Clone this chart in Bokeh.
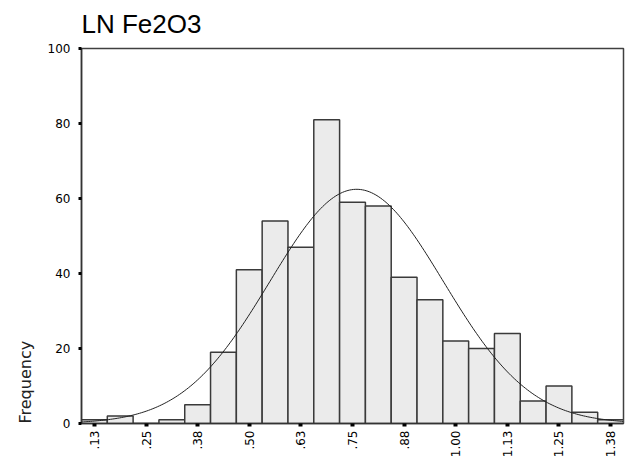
import math
import numpy as np
from bokeh.plotting import figure
from bokeh.models import Title, FixedTicker
from bokeh.embed import file_html
from bokeh.resources import INLINE

# ---- data ----
bin_centers = [0.125, 0.1875, 0.25, 0.3125, 0.375, 0.4375, 0.5, 0.5625, 0.625, 0.6875,
               0.75, 0.8125, 0.875, 0.9375, 1.0, 1.0625, 1.125, 1.1875, 1.25, 1.3125, 1.375]
counts = [1, 2, 0, 1, 5, 19, 41, 54, 47, 81,
          59, 58, 39, 33, 22, 20, 24, 6, 10, 3, 1]
bin_width = 0.0625
tick_values = [0.125, 0.25, 0.375, 0.5, 0.625, 0.75, 0.875, 1.0, 1.125, 1.25, 1.375]
tick_labels = [".13", ".25", ".38", ".50", ".63", ".75", ".88", "1.00", "1.13", "1.25", "1.38"]
y_ticks = [0, 20, 40, 60, 80, 100]
# fitted normal curve parameters
curve_mean = 0.76
curve_sd = 0.21
n_cases = sum(counts)

x_lo = bin_centers[0] - bin_width / 2
x_hi = bin_centers[-1] + bin_width / 2

p = figure(width=626, height=463, x_range=(x_lo, x_hi), y_range=(0, 100),
           output_backend="svg", toolbar_location=None,
           min_border_left=81, min_border_right=3, min_border_top=48, min_border_bottom=40)
p.background_fill_color = "white"
p.border_fill_color = "white"
p.outline_line_color = "#404040"
p.outline_line_width = 1.5
p.grid.visible = False

p.title.text = "LN Fe2O3"
p.title.align = "left"
p.title.vertical_align = "top"
p.title.text_font = "Liberation Sans"
p.title.text_font_size = "26px"
p.title.text_font_style = "normal"
p.title.text_color = "black"
p.title.standoff = 16

p.vbar(x=bin_centers, top=counts, width=bin_width, bottom=0,
       fill_color="#EBEBEB", line_color="#3a3a3a", line_width=1.5)

xs = np.linspace(x_lo, x_hi, 300)
ys = n_cases * bin_width / (curve_sd * math.sqrt(2 * math.pi)) * np.exp(-0.5 * ((xs - curve_mean) / curve_sd) ** 2)
p.line(xs, ys, line_color="#222222", line_width=1)

# axes
for ax in (p.xaxis[0], p.yaxis[0]):
    ax.axis_line_color = "#333333"
    ax.axis_line_width = 1.5
    ax.major_tick_in = 0
    ax.major_tick_out = 3
    ax.major_tick_line_color = "black"
    ax.minor_tick_line_color = None
    ax.major_label_text_font = "DejaVu Sans"
    ax.major_label_text_font_size = "12px"
    ax.major_label_text_color = "black"

p.xaxis.ticker = FixedTicker(ticks=tick_values)
p.xaxis.major_label_overrides = {v: t for v, t in zip(tick_values, tick_labels)}
p.xaxis.major_label_orientation = math.pi / 2
p.xaxis.major_tick_line_width = 4
p.xaxis.major_label_standoff = 4

p.yaxis.ticker = FixedTicker(ticks=y_ticks)
p.yaxis.major_tick_line_width = 3
p.yaxis.major_label_standoff = 8

ylab = Title(text="Frequency", align="left", text_font="DejaVu Sans", text_font_size="16px",
             text_font_style="normal", text_color="#222222", standoff=20)
p.add_layout(ylab, "left")

open("out.html", "w").write(file_html(p, INLINE))
